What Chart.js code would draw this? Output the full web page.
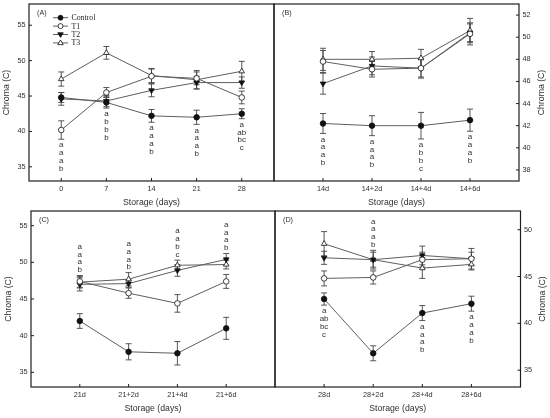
<!DOCTYPE html>
<html>
<head>
<meta charset="utf-8">
<script src="https://cdn.jsdelivr.net/npm/chart.js@4.4.1/dist/chart.umd.min.js"></script>
<style>
html,body{margin:0;padding:0;background:#fff;}
#wrap{position:relative;width:550px;height:418px;overflow:hidden;background:#fff;}
#wrap canvas{position:absolute;left:0;top:0;}
</style>
</head>
<body>
<div id="wrap">
<canvas id="cA" width="550" height="418"></canvas>
<canvas id="cB" width="550" height="418"></canvas>
<canvas id="cC" width="550" height="418"></canvas>
<canvas id="cD" width="550" height="418"></canvas>
</div>
<script>
// ---------- data ----------
const seriesNames = ['Control', 'T1', 'T2', 'T3'];

const daysA = [0, 7, 14, 21, 28];
const catsB = ['14d', '14+2d', '14+4d', '14+6d'];
const catsC = ['21d', '21+2d', '21+4d', '21+6d'];
const catsD = ['28d', '28+2d', '28+4d', '28+6d'];

const yTicksA = [35, 40, 45, 50, 55];
const yTicksB = [38, 40, 42, 44, 46, 48, 50, 52];
const yTicksC = [35, 40, 45, 50, 55];
const yTicksD = [35, 40, 45, 50];

// Panel A
const controlA = [44.8, 44.1, 42.2, 42.0, 42.5];
const t1A      = [40.2, 45.5, 47.8, 47.5, 44.8];
const t2A      = [44.6, 44.3, 45.8, 46.9, 46.9];
const t3A      = [47.4, 51.1, 47.9, 47.3, 48.5];
const controlAErr = [0.7, 0.8, 0.9, 1.0, 0.7];
const t1AErr      = [1.3, 0.7, 1.0, 0.9, 0.9];
const t2AErr      = [0.9, 0.8, 0.9, 0.9, 0.8];
const t3AErr      = [1.0, 0.9, 1.0, 1.3, 1.4];
const lettersA = [['a','a','a','b'], ['a','b','b','b'], ['a','a','a','b'], ['a','a','a','b'], ['a','ab','bc','c']];
const sidesA   = ['below', 'below', 'below', 'below', 'below'];

// Panel B
const controlB = [42.2, 42.0, 42.0, 42.5];
const t1B      = [47.8, 47.1, 47.2, 50.3];
const t2B      = [45.8, 47.4, 47.2, 50.4];
const t3B      = [48.0, 48.0, 48.1, 50.6];
const controlBErr = [0.9, 0.9, 1.2, 1.0];
const t1BErr      = [1.0, 0.7, 0.9, 1.0];
const t2BErr      = [0.95, 0.8, 0.8, 0.8];
const t3BErr      = [1.0, 0.7, 0.8, 1.1];
const lettersB = [['a','a','a','b'], ['a','a','a','b'], ['a','b','b','c'], ['a','a','a','b']];
const sidesB   = ['below', 'below', 'below', 'below'];

// Panel C
const controlC = [42.0, 37.8, 37.6, 41.0];
const t1C      = [47.4, 45.8, 44.4, 47.4];
const t2C      = [47.0, 47.1, 48.9, 50.4];
const t3C      = [47.3, 47.7, 49.6, 49.7];
const controlCErr = [1.0, 1.1, 1.6, 1.5];
const t1CErr      = [0.8, 0.7, 1.2, 0.95];
const t2CErr      = [0.9, 0.5, 0.8, 0.8];
const t3CErr      = [0.8, 0.9, 0.7, 0.6];
const lettersC = [['a','a','a','b'], ['a','a','a','b'], ['a','a','b','c'], ['a','a','a','b']];
const sidesC   = ['above', 'above', 'above', 'above'];

// Panel D
const controlD = [42.6, 36.8, 41.1, 42.1];
const t1D      = [44.8, 44.9, 46.8, 46.9];
const t2D      = [47.0, 46.8, 47.25, 46.9];
const t3D      = [48.5, 46.8, 45.9, 46.3];
const controlDErr = [0.65, 0.8, 0.8, 0.8];
const t1DErr      = [0.8, 0.7, 0.8, 0.7];
const t2DErr      = [0.7, 1.0, 1.0, 1.1];
const t3DErr      = [1.3, 0.8, 1.1, 0.6];
const lettersD = [['a','ab','bc','c'], ['a','a','a','b'], ['a','a','a','b'], ['a','a','a','b']];
const sidesD   = ['below', 'above', 'below', 'below'];

// ---------- styles ----------
const FONT = '"Liberation Sans", Arial, sans-serif';
const SERIF = '"Liberation Serif", "Times New Roman", serif';
const LINE = '#5e5e5e';
const ERR = '#444';
const AXIS = '#1e1e1e';
const TEXT = '#303030';
const STYLES = [
  {shape: 'circle',   rot: 0,   r: 2.8, fill: '#111'},
  {shape: 'circle',   rot: 0,   r: 2.8, fill: '#fff'},
  {shape: 'triangle', rot: 180, r: 3.2, fill: '#111'},
  {shape: 'triangle', rot: 0,   r: 3.2, fill: '#fff'}
];
const W = 550, H = 418;

function drawMarker(ctx, st, x, y, r) {
  ctx.beginPath();
  if (st.shape === 'circle') {
    ctx.arc(x, y, r, 0, Math.PI * 2);
  } else {
    const s = st.rot ? -1 : 1;
    ctx.moveTo(x, y - s * r);
    ctx.lineTo(x + r * 0.95, y + s * r * 0.6);
    ctx.lineTo(x - r * 0.95, y + s * r * 0.6);
    ctx.closePath();
  }
  ctx.fillStyle = st.fill;
  ctx.fill();
  ctx.strokeStyle = '#111';
  ctx.lineWidth = 0.8;
  ctx.stroke();
}

function makePanel(id, p) {
  const yLeft = p.yPos === 'left';
  const yW = yLeft ? p.area.l : W - p.area.r;
  const xH = 20;
  const datasets = p.values.map((vals, k) => ({
    label: seriesNames[k],
    data: vals.map((v, i) => ({x: p.xs[i], y: v})),
    borderColor: LINE,
    borderWidth: 1,
    tension: 0,
    pointStyle: STYLES[k].shape,
    rotation: STYLES[k].rot,
    pointRadius: STYLES[k].r,
    pointHoverRadius: STYLES[k].r,
    pointBackgroundColor: STYLES[k].fill,
    pointBorderColor: '#111',
    pointBorderWidth: 0.8
  }));

  const overlay = {
    id: 'overlay' + id,
    beforeDatasetsDraw(chart) {
      const ctx = chart.ctx, xs = chart.scales.x, ys = chart.scales.y;
      ctx.save();
      ctx.strokeStyle = ERR;
      ctx.lineWidth = 0.9;
      p.values.forEach((vals, k) => {
        vals.forEach((v, i) => {
          const e = p.errs[k][i];
          const px = xs.getPixelForValue(p.xs[i]);
          const y1 = ys.getPixelForValue(v + e), y2 = ys.getPixelForValue(v - e);
          ctx.beginPath();
          ctx.moveTo(px, y1); ctx.lineTo(px, y2);
          ctx.moveTo(px - 3, y1); ctx.lineTo(px + 3, y1);
          ctx.moveTo(px - 3, y2); ctx.lineTo(px + 3, y2);
          ctx.stroke();
        });
      });
      ctx.restore();
    },
    afterDraw(chart) {
      const ctx = chart.ctx, xs = chart.scales.x, ys = chart.scales.y;
      const a = chart.chartArea;
      ctx.save();
      // frame
      ctx.strokeStyle = AXIS;
      ctx.lineWidth = 1.2;
      ctx.strokeRect(a.left, a.top, a.right - a.left, a.bottom - a.top);
      // inward ticks
      ctx.lineWidth = 1;
      ctx.beginPath();
      p.xs.forEach(v => {
        const px = xs.getPixelForValue(v);
        ctx.moveTo(px, a.bottom); ctx.lineTo(px, a.bottom - 3);
      });
      p.yTicks.forEach(v => {
        const py = ys.getPixelForValue(v);
        if (yLeft) { ctx.moveTo(a.left, py); ctx.lineTo(a.left + 3, py); }
        else { ctx.moveTo(a.right, py); ctx.lineTo(a.right - 3, py); }
      });
      ctx.stroke();
      // titles
      ctx.fillStyle = TEXT;
      ctx.font = '8.7px ' + FONT;
      ctx.textAlign = 'center';
      ctx.textBaseline = 'middle';
      ctx.fillText('Storage (days)', (a.left + a.right) / 2, a.bottom + 21.5);
      ctx.save();
      ctx.translate(yLeft ? a.left - 22 : a.right + 22.5, (a.top + a.bottom) / 2);
      ctx.rotate(-Math.PI / 2);
      ctx.fillText('Chroma (C)', 0, 0);
      ctx.restore();
      // panel tag
      ctx.font = '7.2px ' + FONT;
      ctx.textAlign = 'left';
      ctx.fillText(p.tag, a.left + 8, a.top + 9.5);
      // significance letters
      ctx.font = '8px ' + FONT;
      ctx.textAlign = 'center';
      const step = 7.8;
      p.letters.forEach((list, i) => {
        const px = xs.getPixelForValue(p.xs[i]);
        let start;
        if (p.sides[i] === 'below') {
          let lo = Infinity;
          p.values.forEach((vals, k) => { lo = Math.min(lo, vals[i] - p.errs[k][i]); });
          start = ys.getPixelForValue(lo) + 6;
        } else {
          let hi = -Infinity;
          p.values.forEach((vals, k) => { hi = Math.max(hi, vals[i] + p.errs[k][i]); });
          start = ys.getPixelForValue(hi) - 5.5 - (list.length - 1) * step;
        }
        list.forEach((t, j) => ctx.fillText(t, px, start + j * step));
      });
      // legend
      if (p.legend) {
        ctx.font = '7.8px ' + SERIF;
        ctx.textAlign = 'left';
        seriesNames.forEach((name, k) => {
          const ly = a.top + 13.7 + k * 8.4;
          const lx = a.left + 24;
          ctx.strokeStyle = LINE;
          ctx.lineWidth = 1;
          ctx.beginPath();
          ctx.moveTo(lx, ly); ctx.lineTo(lx + 15, ly);
          ctx.stroke();
          drawMarker(ctx, STYLES[k], lx + 7.5, ly, STYLES[k].shape === 'circle' ? 2.5 : 2.9);
          ctx.fillStyle = '#222';
          ctx.fillText(name, lx + 18.5, ly + 0.5);
        });
      }
      ctx.restore();
    }
  };

  new Chart(document.getElementById(id), {
    type: 'line',
    data: {datasets},
    options: {
      responsive: false,
      animation: false,
      events: [],
      layout: {
        padding: {
          left: yLeft ? 0 : p.area.l,
          right: yLeft ? W - p.area.r : 0,
          top: p.area.t,
          bottom: H - p.area.b - xH
        }
      },
      plugins: {legend: {display: false}, tooltip: {enabled: false}},
      scales: {
        x: {
          type: 'linear',
          min: p.xMin, max: p.xMax,
          afterBuildTicks: s => { s.ticks = p.xs.map(v => ({value: v})); },
          afterFit: s => { s.height = xH; s.paddingLeft = 0; s.paddingRight = 0; },
          grid: {display: false, drawTicks: false, tickLength: 0},
          border: {display: false},
          ticks: {
            autoSkip: false, maxRotation: 0, padding: 3.5, color: TEXT,
            font: {family: FONT, size: 7.3},
            callback: (v, i) => p.xLabels[i]
          }
        },
        y: {
          type: 'linear',
          position: p.yPos,
          min: p.yMin, max: p.yMax,
          afterBuildTicks: s => { s.ticks = p.yTicks.map(v => ({value: v})); },
          afterFit: s => { s.width = yW; s.paddingTop = 0; s.paddingBottom = 0; },
          grid: {display: false, drawTicks: false, tickLength: 0},
          border: {display: false},
          ticks: {
            padding: 3.5, color: TEXT,
            font: {family: FONT, size: 7.3},
            callback: v => String(v)
          }
        }
      }
    },
    plugins: [overlay]
  });
}

makePanel('cA', {
  tag: '(A)', legend: true, yPos: 'left',
  area: {l: 29, t: 4, r: 274, b: 181},
  xs: daysA, xLabels: daysA.map(String), xMin: -5, xMax: 33,
  yMin: 33, yMax: 58, yTicks: yTicksA,
  values: [controlA, t1A, t2A, t3A],
  errs: [controlAErr, t1AErr, t2AErr, t3AErr],
  letters: lettersA, sides: sidesA
});
makePanel('cB', {
  tag: '(B)', legend: false, yPos: 'right',
  area: {l: 274, t: 4, r: 519, b: 181},
  xs: catsB.map((c, i) => i), xLabels: catsB, xMin: -1, xMax: 4,
  yMin: 37, yMax: 53, yTicks: yTicksB,
  values: [controlB, t1B, t2B, t3B],
  errs: [controlBErr, t1BErr, t2BErr, t3BErr],
  letters: lettersB, sides: sidesB
});
makePanel('cC', {
  tag: '(C)', legend: false, yPos: 'left',
  area: {l: 31, t: 211, r: 275, b: 387},
  xs: catsC.map((c, i) => i), xLabels: catsC, xMin: -1, xMax: 4,
  yMin: 33, yMax: 57, yTicks: yTicksC,
  values: [controlC, t1C, t2C, t3C],
  errs: [controlCErr, t1CErr, t2CErr, t3CErr],
  letters: lettersC, sides: sidesC
});
makePanel('cD', {
  tag: '(D)', legend: false, yPos: 'right',
  area: {l: 275, t: 211, r: 520.5, b: 387},
  xs: catsD.map((c, i) => i), xLabels: catsD, xMin: -1, xMax: 4,
  yMin: 33.2, yMax: 52, yTicks: yTicksD,
  values: [controlD, t1D, t2D, t3D],
  errs: [controlDErr, t1DErr, t2DErr, t3DErr],
  letters: lettersD, sides: sidesD
});
</script>
</body>
</html>
